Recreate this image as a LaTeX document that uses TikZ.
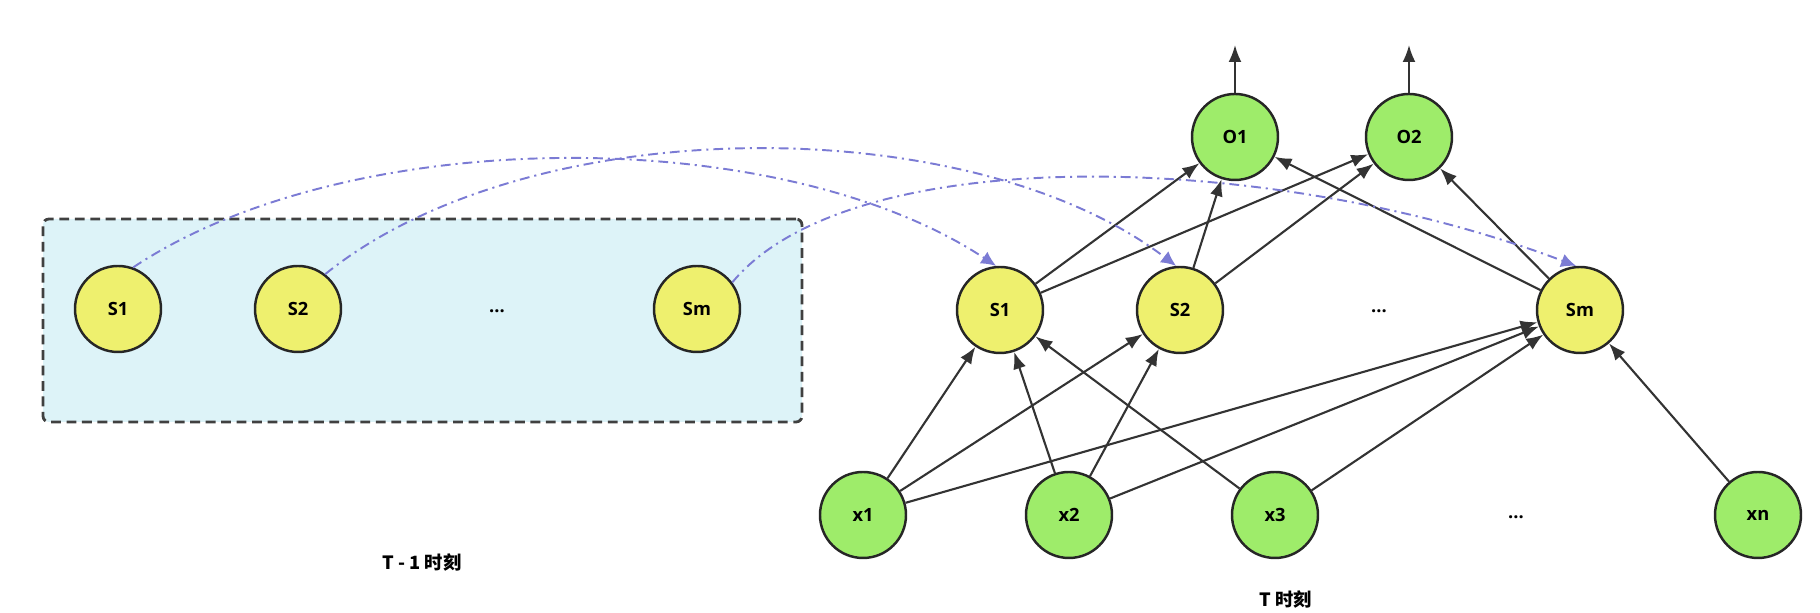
\documentclass[tikz,border=0pt]{standalone}
\usepackage{fontspec}
\setmainfont{Open Sans}
\newfontfamily\cjk{Noto Sans CJK SC}
\usetikzlibrary{arrows.meta}
\definecolor{stfill}{HTML}{EEF06E}
\definecolor{gfill}{HTML}{9EEC6A}
\definecolor{boxfill}{HTML}{DDF3F8}
\definecolor{link}{HTML}{7B7BD4}
\definecolor{edge}{HTML}{333333}

\begin{document}
\begin{tikzpicture}[every node/.style={font=\fontsize{5.2}{6}\selectfont\bfseries},
  unit/.style={circle,minimum size=8.6mm,inner sep=0pt,draw=black!85,line width=0.7pt},
  st/.style={unit,fill=stfill},
  gr/.style={unit,fill=gfill},
  arr/.style={draw=edge,line width=0.6pt,-{Latex[length=1.7mm,width=1.3mm]}},
  rec/.style={draw=link,line width=0.55pt,dash pattern=on 2.8pt off 1.4pt on 0.6pt off 1.4pt,-{Latex[length=1.5mm,width=1.4mm]}}]
  \useasboundingbox (0,0) rectangle (18.2,-6.13);
  % T-1
  \node[draw=black!75,fill=boxfill,line width=0.8pt,dash pattern=on 2.8pt off 1.6pt,rounded corners=0.6mm,minimum width=7.59cm,minimum height=2.03cm] (prev) at (4.225,-3.205) {};
  \node[st] (P1) at (1.18,-3.09) {S1};
  \node[st] (P2) at (2.98,-3.09) {S2};
  \node (Pd) at (4.97,-3.11) {...};
  \node[st] (Pm) at (6.97,-3.09) {Sm};
  \node (Tprev) at (4.22,-5.63) {\cjk T - 1 时刻};
  % T
  \node[st] (S1) at (10.00,-3.10) {S1};
  \node[st] (S2) at (11.80,-3.10) {S2};
  \node (Sd) at (13.79,-3.11) {...};
  \node[st] (Sm) at (15.80,-3.10) {Sm};
  \node[gr] (O1) at (12.35,-1.37) {O1};
  \node[gr] (O2) at (14.09,-1.37) {O2};
  \coordinate (O1up) at (12.35,-0.45);
  \coordinate (O2up) at (14.09,-0.45);
  \node[gr] (X1) at (8.63,-5.15) {x1};
  \node[gr] (X2) at (10.69,-5.15) {x2};
  \node[gr] (X3) at (12.75,-5.15) {x3};
  \node (Xd) at (15.16,-5.17) {...};
  \node[gr] (Xn) at (17.58,-5.15) {xn};
  \node (Tnow) at (12.86,-6.00) {\cjk T 时刻};
  \draw[arr] (O1) -- (O1up);
  \draw[arr] (O2) -- (O2up);
  \draw[arr] (S1) -- (O1);
  \draw[arr] (S1) -- (O2);
  \draw[arr] (S2) -- (O1);
  \draw[arr] (S2) -- (O2);
  \draw[arr] (Sm) -- (O1);
  \draw[arr] (Sm) -- (O2);
  \draw[arr] (X1) -- (S1);
  \draw[arr] (X1) -- (S2);
  \draw[arr] (X1) -- (Sm);
  \draw[arr] (X2) -- (S1);
  \draw[arr] (X2) -- (S2);
  \draw[arr] (X2) -- (Sm);
  \draw[arr] (X3) -- (S1);
  \draw[arr] (X3) -- (Sm);
  \draw[arr] (Xn) -- (Sm);
  % copy of the hidden state
  \draw[rec] (P1.70) .. controls (3.5,-1.23) and (7.8,-1.23) .. (S1.95);
  \draw[rec] (P2.52) .. controls (5.3,-1.09) and (9.7,-1.09) .. (S2.95);
  \draw[rec] (Pm.37) .. controls (8.5,-1.4) and (12.7,-1.5) .. (Sm.95);
\end{tikzpicture}
\end{document}
